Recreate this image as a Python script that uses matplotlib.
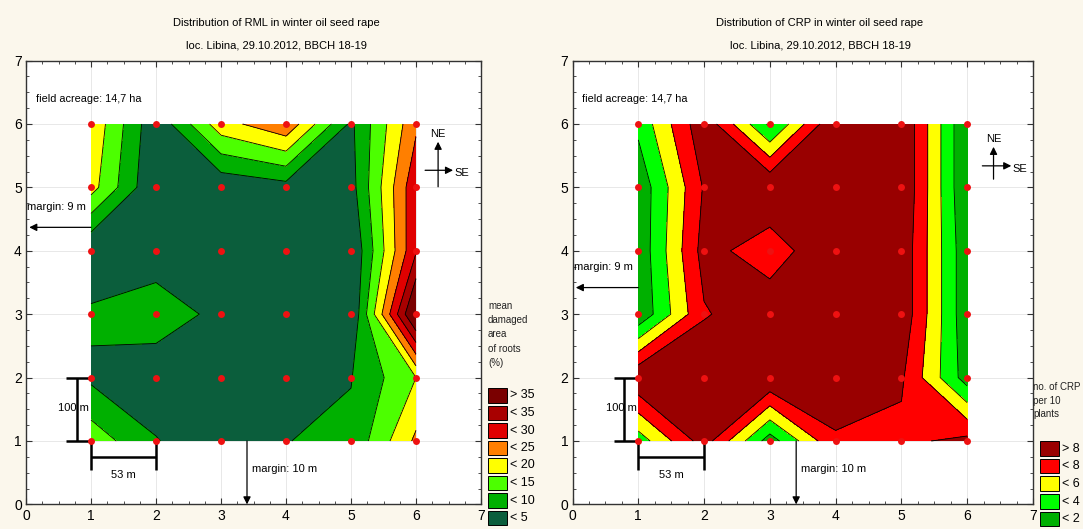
import matplotlib.pyplot as plt
import numpy as np
from matplotlib.patches import Rectangle

plt.rcParams['font.family'] = ['Liberation Sans', 'DejaVu Sans']

W, H = 1083, 529
BG = '#fbf7ec'

grid_x = [1, 2, 3, 4, 5, 6]
grid_y = [1, 2, 3, 4, 5, 6]

# mean damaged area of roots (%), one row per y = 1..6, columns x = 1..6
rml = [
    [13.0, 5.3, 1.0, 4.9, 6.0, 21.0],
    [4.0, 1.5, 1.0, 1.0, 4.8, 15.0],
    [6.0, 8.0, 3.5, 0.0, 0.0, 42.0],
    [0.0, 2.0, 0.0, 0.0, 0.0, 29.5],
    [17.0, 0.0, 1.0, 3.0, 3.0, 29.0],
    [19.0, 1.0, 18.0, 24.0, 4.0, 24.0],
]
rml_levels = [-1, 5, 10, 15, 20, 25, 30, 35, 100]
rml_colors = ['#0b5e3c', '#00b000', '#4cff00', '#ffff00', '#ff7f00',
              '#e00000', '#a80000', '#7a0000']
rml_labels = ['> 35', '< 35', '< 30', '< 25', '< 20', '< 15', '< 10', '< 5']

# no. of CRP per 10 plants
crp = [
    [2.9, 9.0, 1.0, 7.8, 7.5, 8.6],
    [9.9, 10.0, 10.0, 9.0, 8.3, 1.0],
    [0.3, 7.8, 9.5, 10.0, 9.5, 0.5],
    [0.5, 8.8, 6.8, 10.0, 9.5, 0.5],
    [0.5, 8.2, 10.0, 8.3, 10.0, 0.0],
    [2.5, 9.5, 1.6, 10.0, 10.0, 0.0],
]
crp_levels = [-1, 2, 4, 6, 8, 100]
crp_colors = ['#00b000', '#00ff00', '#ffff00', '#ff0000', '#990000']
crp_labels = ['> 8', '< 8', '< 6', '< 4', '< 2']


def fx(px):
    return px / W


def fy(py):
    return 1 - py / H


def arrow(ax, start, end):
    ax.annotate('', xy=end, xytext=start,
                arrowprops=dict(arrowstyle='-|>', color='black', lw=0.9,
                                mutation_scale=11, shrinkA=0, shrinkB=0))


def panel(rect, values, levels, colors, title, center_px, margin9_y,
          bar_x, compass):
    ax = fig.add_axes(rect)
    ax.set_facecolor('white')
    X, Y = np.meshgrid(grid_x, grid_y)
    Z = np.array(values)
    ax.contourf(X, Y, Z, levels=levels, colors=colors, zorder=1)
    ax.contour(X, Y, Z, levels=levels[1:-1], colors='black',
               linewidths=0.6, zorder=2)
    ax.plot(X.ravel(), Y.ravel(), 'o', color='#ee1111', ms=5, mec='none',
            clip_on=False, zorder=5)

    ax.set_xlim(0, 7)
    ax.set_ylim(0, 7)
    ax.set_xticks(range(8))
    ax.set_yticks(range(8))
    ax.set_xticks(np.arange(0, 7.01, 0.25), minor=True)
    ax.set_yticks(np.arange(0, 7.01, 0.25), minor=True)
    ax.tick_params(which='both', direction='in', top=True, right=True,
                   labelsize=10, color='#333333')
    ax.tick_params(which='major', length=4, pad=3)
    ax.tick_params(which='minor', length=2)
    ax.grid(True, which='major', color='#e4e4e4', lw=0.6)
    ax.set_axisbelow(True)
    for s in ax.spines.values():
        s.set_color('#333333')
        s.set_linewidth(1.0)

    fig.text(fx(center_px), fy(23), title[0], ha='center', va='center',
             fontsize=8)
    fig.text(fx(center_px), fy(45), title[1], ha='center', va='center',
             fontsize=8)

    ax.text(0.15, 6.4, 'field acreage: 14,7 ha', fontsize=7.8, va='center')

    # margins
    ax.text(0.02, margin9_y + 0.32, 'margin: 9 m', fontsize=8, va='center')
    arrow(ax, (1.0, margin9_y), (0.05, margin9_y))
    ax.text(3.48, 0.56, 'margin: 10 m', fontsize=8, va='center')
    arrow(ax, (3.4, 1.0), (3.4, 0.0))

    # scale bars
    ax.plot([bar_x, bar_x], [1, 2], color='black', lw=1.8, zorder=3,
            solid_capstyle='butt')
    for yy in (1, 2):
        ax.plot([bar_x - 0.16, 1.0], [yy, yy], color='black', lw=1.8,
                zorder=3, solid_capstyle='butt')
    ax.text(bar_x - 0.05, 1.52, '100 m', fontsize=8, ha='center',
            va='center', zorder=4)
    ax.plot([1, 2], [0.75, 0.75], color='black', lw=1.8, zorder=3,
            solid_capstyle='butt')
    for xx in (1, 2):
        ax.plot([xx, xx], [0.54, 1.0], color='black', lw=1.8, zorder=3,
                solid_capstyle='butt')
    ax.text(1.5, 0.47, '53 m', fontsize=8, ha='center', va='center')

    # compass
    cx, cy, vy0, vy1, hx0, hx1 = compass
    arrow(ax, (cx, vy0), (cx, vy1))
    arrow(ax, (hx0, cy), (hx1, cy))
    ax.text(cx, vy1 + 0.13, 'NE', fontsize=8, ha='center', va='center')
    ax.text(hx1 + 0.02, cy - 0.05, 'SE', fontsize=8, ha='left',
            va='center')
    return ax


def legend(x0, tops, colors, labels, title, title_x, title_top, spacing):
    for top, c, lab in zip(tops, colors, labels):
        fig.add_artist(Rectangle((fx(x0), fy(top + 14.5)), fx(19),
                                 14.5 / H, facecolor=c, edgecolor='black',
                                 lw=0.7, transform=fig.transFigure))
        fig.text(fx(x0 + 22), fy(top + 7.5), lab, fontsize=9,
                 va='center')
    for i, line in enumerate(title):
        fig.text(fx(title_x), fy(title_top + i * spacing), line,
                 fontsize=7, va='center', color='#222222')


fig = plt.figure(figsize=(W / 100, H / 100), dpi=100, facecolor=BG)

panel([fx(26), 1 - 504.4 / H, 455 / W, 443.8 / H], rml, rml_levels,
      rml_colors,
      ['Distribution of RML in winter oil seed rape',
       'loc. Libina, 29.10.2012, BBCH 18-19'], 276, 4.37, 0.78,
      (6.34, 5.27, 5.01, 5.72, 6.14, 6.57))
panel([fx(572.5), 1 - 504.4 / H, 460.5 / W, 443.8 / H], crp, crp_levels,
      crp_colors,
      ['Distribution of CRP in winter oil seed rape',
       'loc. Libina, 29.10.2012, BBCH 18-19'], 820, 3.42, 0.79,
      (6.4, 5.34, 5.13, 5.64, 6.23, 6.67))

legend(488, [388, 405.5, 423, 440.5, 458, 475.5, 493, 510.5],
       rml_colors[::-1], rml_labels,
       ['mean', 'damaged', 'area', 'of roots', '(%)'], 488, 306, 14.2)
legend(1040, [441, 458.7, 476.4, 494.1, 511.8], crp_colors[::-1],
       crp_labels, ['no. of CRP', 'per 10', 'plants'], 1033, 387, 13.7)

fig.savefig('out.png', dpi=100, facecolor=BG)
